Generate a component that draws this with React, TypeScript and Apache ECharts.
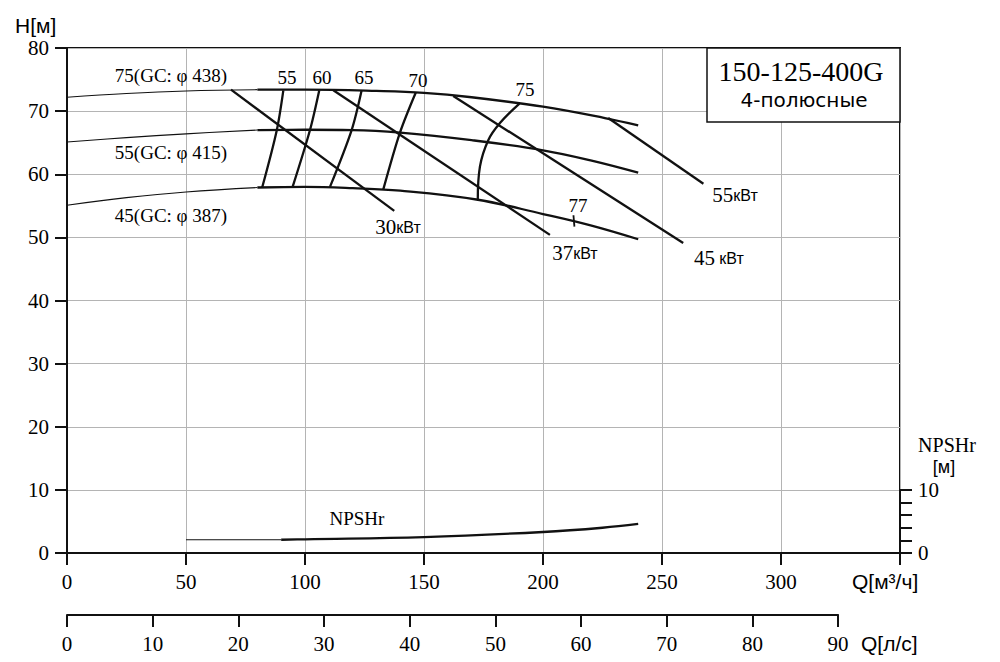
import React, { useEffect, useRef } from "react";
import * as echarts from "echarts";

const SERIF = "'Liberation Serif', 'Times New Roman', serif";
const SANS = "'Liberation Sans', Arial, sans-serif";
const WIDE_SANS = "'DejaVu Sans', 'Liberation Sans', sans-serif";

// Q [m3/h] axis and Q [l/s] axis
const flowMax = 350;
const flowInterval = 50;
const lsMax = 90;
const lsInterval = 10;
const headMax = 80;
const headInterval = 10;
const npshMax = 10;
const npshInterval = 2;

// Head curves [Q m3/h, H m] (thin = outside recommended range)
const head438Thin = [[0, 72.2], [25, 72.8], [50, 73.2], [80, 73.4]];
const head438 = [[80, 73.4], [100, 73.4], [130, 73.2], [150, 72.9], [170, 72.2], [200, 70.7], [226, 68.9], [240, 67.75]];
const head415Thin = [[0, 65.1], [25, 65.8], [50, 66.4], [80, 67.0]];
const head415 = [[80, 67.0], [100, 67.05], [120, 67.0], [140, 66.6], [170, 65.4], [200, 63.8], [220, 62.2], [240, 60.25]];
const head387Thin = [[0, 55.1], [25, 56.3], [50, 57.2], [80, 57.9]];
const head387 = [[80, 57.9], [100, 58.0], [120, 57.8], [140, 57.4], [172, 56.0], [200, 53.7], [220, 51.9], [240, 49.7]];

// Efficiency iso-lines
const eff55 = [[82.0, 57.9], [88.1, 66.9], [90.9, 73.3]];
const eff60 = [[94.8, 58.0], [102.1, 67.0], [106.0, 73.3]];
const eff65 = [[110.5, 58.0], [119.6, 67.0], [123.8, 73.3]];
const eff70 = [[132.9, 57.6], [139.9, 66.6], [146.6, 73.0]];
const eff75 = [[172.6, 56.0], [173.5, 61.2], [177.0, 65.4], [181.9, 68.1], [190.1, 71.2]];
const eff77 = [[212.8, 53.5], [213.2, 51.7]];

// Power lines
const power30 = [[68.9, 73.4], [137.5, 54.2]];
const power37 = [[111.9, 73.3], [202.9, 50.4]];
const power45 = [[162.3, 72.4], [258.9, 49.1]];
const power55 = [[227.4, 68.9], [267.4, 58.5]];

// NPSHr
const npshThin = [[50, 2.1], [90, 2.1]];
const npsh = [[90, 2.1], [100, 2.17], [150, 2.53], [200, 3.33], [225, 4.0], [240, 4.6]];

// Annotation texts at [Q, H]
const curveLabels = [
  { name: "75(GC: φ 438)", value: [43.7, 75.6] },
  { name: "55(GC: φ 415)", value: [43.7, 63.4] },
  { name: "45(GC: φ 387)", value: [43.7, 53.5] },
];
const effLabels = [
  { name: "55", value: [92.4, 75.4] },
  { name: "60", value: [107.1, 75.4] },
  { name: "65", value: [124.8, 75.4] },
  { name: "70", value: [147.5, 74.9] },
  { name: "75", value: [192.4, 73.5] },
  { name: "77", value: [214.7, 55.1] },
  { name: "NPSHr", value: [121.8, 5.5] },
];
const powerLabels = [
  { name: "30|кВт", value: [139.1, 51.6] },
  { name: "37|кВт", value: [213.4, 47.5] },
  { name: "45| кВт", value: [273.9, 46.7] },
  { name: "55|кВт", value: [280.7, 56.7] },
];

const INK = "#000000";
const LINE = "#111111";

function lineSeries(data: number[][], width: number, smooth: number | boolean = 0.4) {
  return {
    type: "line",
    data,
    xAxisIndex: 0,
    yAxisIndex: 0,
    smooth,
    symbol: "none",
    silent: true,
    lineStyle: { color: LINE, width },
    z: 3,
  };
}

export default function App() {
  const ref = useRef<HTMLDivElement>(null);
  useEffect(() => {
    if (!ref.current) return;
    const chart = echarts.init(ref.current, undefined, { renderer: "svg" });
    const axisLine = { show: true, onZero: false, lineStyle: { color: LINE, width: 2 } };
    const axisTick = { show: true, inside: false, length: 12, lineStyle: { color: LINE, width: 2 } };
    const numLabel = { fontFamily: SERIF, fontSize: 21, color: INK };
    const gridLine = { show: true, lineStyle: { color: "#b4b4b4", width: 1 } };

    const thick = 2.3;
    const thin = 1.1;

    const staticGraphics: any[] = [
      {
        type: "rect", z: 100,
        shape: { x: 707, y: 48, width: 193, height: 74 },
        style: { fill: "#ffffff", stroke: LINE, lineWidth: 1.5 },
      },
      {
        type: "text", z: 101, x: 801, y: 71,
        style: { text: "150-125-400G", fontFamily: SERIF, fontSize: 28, fill: INK, align: "center", verticalAlign: "middle" },
      },
      {
        type: "text", z: 101, x: 804, y: 100,
        style: { text: "4-полюсные", fontFamily: WIDE_SANS, fontSize: 20, fill: INK, align: "center", verticalAlign: "middle" },
      },
      {
        type: "text", z: 101, x: 15, y: 25,
        style: { text: "H[м]", fontFamily: SANS, fontSize: 21, fill: INK, align: "left", verticalAlign: "middle" },
      },
      {
        type: "text", z: 101, x: 852, y: 581,
        style: { text: "Q[м³/ч]", fontFamily: SANS, fontSize: 21, fill: INK, align: "left", verticalAlign: "middle" },
      },
      {
        type: "text", z: 101, x: 861, y: 643,
        style: { text: "Q[л/с]", fontFamily: SANS, fontSize: 21, fill: INK, align: "left", verticalAlign: "middle" },
      },
      {
        type: "text", z: 101, x: 947, y: 445,
        style: { text: "NPSHr", fontFamily: SERIF, fontSize: 20, fill: INK, align: "center", verticalAlign: "middle" },
      },
      {
        type: "text", z: 101, x: 944, y: 467,
        style: { text: "[м]", fontFamily: SANS, fontSize: 18, fill: INK, align: "center", verticalAlign: "middle" },
      },
    ];

    chart.setOption({
      animation: false,
      backgroundColor: "#ffffff",
      grid: [
        { left: 67, top: 48, width: 833, height: 505, show: true, borderColor: LINE, borderWidth: 2, backgroundColor: "transparent" },
        { left: 67, top: 614, width: (lsMax * 3.6 * 833) / flowMax, height: 1 },
        { left: 67, top: 490, width: 833, height: 63 },
      ],
      xAxis: [
        {
          gridIndex: 0, type: "value", min: 0, max: flowMax, interval: flowInterval,
          axisLine, axisTick,
          axisLabel: { ...numLabel, margin: 18, formatter: (v: number) => (v === flowMax ? "" : String(v)) },
          splitLine: gridLine,
        },
        {
          gridIndex: 1, type: "value", min: 0, max: lsMax, interval: lsInterval, position: "bottom",
          axisLine, axisTick,
          axisLabel: { ...numLabel, margin: 18 },
          splitLine: { show: false },
        },
        { gridIndex: 2, type: "value", min: 0, max: flowMax, show: false },
      ],
      yAxis: [
        {
          gridIndex: 0, type: "value", min: 0, max: headMax, interval: headInterval,
          axisLine, axisTick,
          axisLabel: { ...numLabel, margin: 18 },
          splitLine: gridLine,
        },
        { gridIndex: 1, type: "value", min: 0, max: 1, show: false },
        {
          gridIndex: 2, type: "value", position: "right", min: 0, max: npshMax, interval: npshInterval,
          axisLine, axisTick,
          axisLabel: { ...numLabel, margin: 18, align: "left", formatter: (v: number) => (v === 0 || v === npshMax ? String(v) : "") },
          splitLine: { show: false },
        },
      ],
      series: [
        lineSeries(head438Thin, thin),
        lineSeries(head438, thick),
        lineSeries(head415Thin, thin),
        lineSeries(head415, thick),
        lineSeries(head387Thin, thin),
        lineSeries(head387, thick),
        lineSeries(eff55, thick, 0.3),
        lineSeries(eff60, thick, 0.3),
        lineSeries(eff65, thick, 0.3),
        lineSeries(eff70, thick, 0.3),
        lineSeries(eff75, thick, 0.4),
        lineSeries(eff77, thick - 0.5, false),
        lineSeries(power30, thick, false),
        lineSeries(power37, thick, false),
        lineSeries(power45, thick, false),
        lineSeries(power55, thick, false),
        lineSeries(npshThin, thin, false),
        lineSeries(npsh, thick, 0.4),
      ],
      graphic: staticGraphics,
    });

    // Annotation texts placed through the chart's own scales
    const toPx = (v: number[]) => chart.convertToPixel({ xAxisIndex: 0, yAxisIndex: 0 }, v) as number[];
    const plainTexts = [...curveLabels, ...effLabels].map((d) => {
      const [x, y] = toPx(d.value);
      return {
        type: "text", z: 90, x, y,
        style: { text: d.name, fontFamily: SERIF, fontSize: 19, fill: INK, align: "center", verticalAlign: "middle" },
      };
    });
    const powerTexts = powerLabels.map((d) => {
      const [x, y] = toPx(d.value);
      const [n, u] = d.name.split("|");
      return {
        type: "text", z: 90, x, y,
        style: {
          text: `{n|${n}}{u|${u}}`,
          align: "center", verticalAlign: "middle",
          rich: {
            n: { fontFamily: SERIF, fontSize: 21, fill: INK },
            u: { fontFamily: SANS, fontSize: 16, fill: INK },
          },
        },
      };
    });
    chart.setOption({ graphic: [...staticGraphics, ...plainTexts, ...powerTexts] });

    return () => chart.dispose();
  }, []);
  return <div ref={ref} style={{ position: "fixed", left: 0, top: 0, width: 1000, height: 662 }} />;
}
